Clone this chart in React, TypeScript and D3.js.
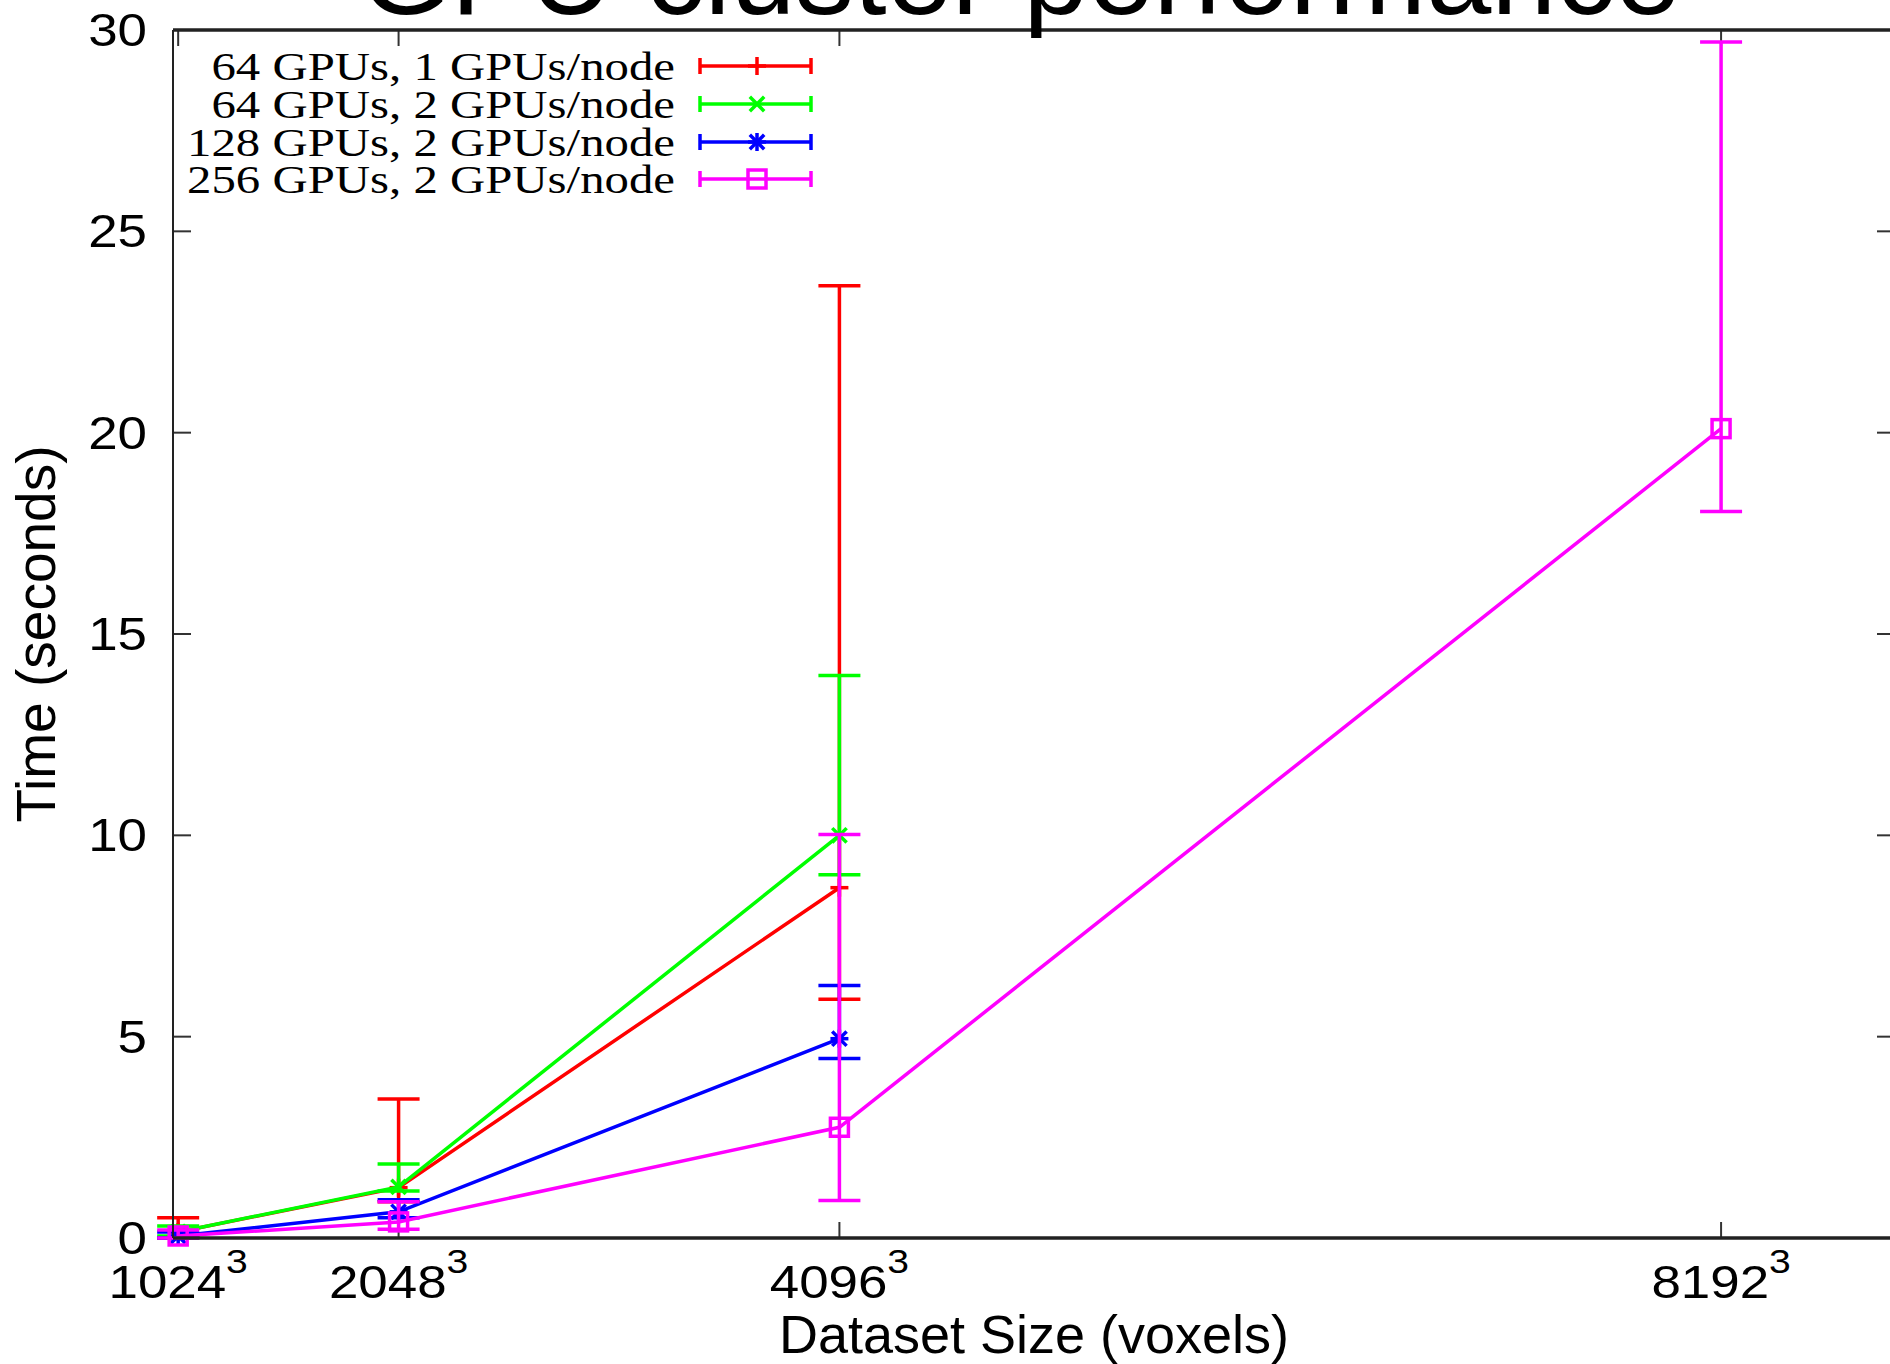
import * as d3 from "d3";
import React, { useEffect, useRef } from "react";

interface Point {
  size: number;
  value: number;
  low: number;
  high: number;
}

// dataset edge length (voxels per side)
const sizes = [1024, 2048, 4096, 8192];
const sizeLabels = ["1024", "2048", "4096", "8192"];
const yTicks = [0, 5, 10, 15, 20, 25, 30];

const gpu64n1: Point[] = [
  { size: 1024, value: 0.15, low: 0.0, high: 0.5 },
  { size: 2048, value: 1.25, low: 0.9, high: 3.45 },
  { size: 4096, value: 8.7, low: 5.93, high: 23.65 },
];
const gpu64n2: Point[] = [
  { size: 1024, value: 0.15, low: 0.05, high: 0.3 },
  { size: 2048, value: 1.27, low: 1.17, high: 1.84 },
  { size: 4096, value: 10.0, low: 9.02, high: 13.97 },
];
const gpu128n2: Point[] = [
  { size: 1024, value: 0.05, low: 0.0, high: 0.15 },
  { size: 2048, value: 0.65, low: 0.5, high: 0.95 },
  { size: 4096, value: 4.95, low: 4.46, high: 6.27 },
];
const gpu256n2: Point[] = [
  { size: 1024, value: 0.05, low: 0.0, high: 0.2 },
  { size: 2048, value: 0.4, low: 0.22, high: 0.9 },
  { size: 4096, value: 2.75, low: 0.93, high: 10.02 },
  { size: 8192, value: 20.1, low: 18.04, high: 29.7 },
];

const seriesNames = [
  "64 GPUs, 1 GPUs/node",
  "64 GPUs, 2 GPUs/node",
  "128 GPUs, 2 GPUs/node",
  "256 GPUs, 2 GPUs/node",
];
const seriesData = [gpu64n1, gpu64n2, gpu128n2, gpu256n2];
const seriesColors = ["#ff0000", "#00ff00", "#0000ff", "#ff00ff"];
const markerTypes = ["plus", "cross", "star", "square"];

const W = 1890;
const H = 1364;
const LW = 3.5;
const sans = "'Liberation Sans', Arial, Helvetica, sans-serif";
const serif = "'Liberation Serif', 'Times New Roman', serif";

function drawMarker(
  g: d3.Selection<SVGGElement, unknown, null, undefined>,
  type: string,
  cx: number,
  cy: number,
  color: string
) {
  const r = 9;
  const segs: [number, number, number, number][] = [];
  if (type === "plus" || type === "star") {
    segs.push([-r, 0, r, 0], [0, -r, 0, r]);
  }
  if (type === "cross" || type === "star") {
    segs.push([-r * 0.8, -r * 0.8, r * 0.8, r * 0.8], [-r * 0.8, r * 0.8, r * 0.8, -r * 0.8]);
  }
  segs.forEach(([x1, y1, x2, y2]) => {
    g.append("line")
      .attr("x1", cx + x1)
      .attr("y1", cy + y1)
      .attr("x2", cx + x2)
      .attr("y2", cy + y2)
      .attr("stroke", color)
      .attr("stroke-width", LW);
  });
  if (type === "square") {
    g.append("rect")
      .attr("x", cx - r)
      .attr("y", cy - r)
      .attr("width", 2 * r)
      .attr("height", 2 * r)
      .attr("fill", "none")
      .attr("stroke", color)
      .attr("stroke-width", LW);
  }
}

export default function App() {
  const svgRef = useRef<SVGSVGElement | null>(null);

  useEffect(() => {
    if (!svgRef.current) return;
    const svg = d3.select(svgRef.current);
    svg.selectAll("*").remove();

    const x = d3.scaleLinear().domain([1000, 9000]).range([173, 1895]);
    const y = d3.scaleLinear().domain([0, 30]).range([1238, 30]);
    const [x0, x1] = x.range();
    const [y0, y1] = y.range();

    svg.append("rect").attr("width", W).attr("height", H).attr("fill", "#fff");

    // ticks (inward, mirrored like gnuplot)
    const ticks = svg.append("g").attr("stroke", "#333").attr("stroke-width", 2);
    yTicks.forEach((t) => {
      ticks.append("line").attr("x1", x0).attr("x2", x0 + 18).attr("y1", y(t)).attr("y2", y(t));
      ticks.append("line").attr("x1", x1 - 18).attr("x2", x1).attr("y1", y(t)).attr("y2", y(t));
    });
    sizes.forEach((s) => {
      ticks.append("line").attr("x1", x(s)).attr("x2", x(s)).attr("y1", y0).attr("y2", y0 - 16);
      ticks.append("line").attr("x1", x(s)).attr("x2", x(s)).attr("y1", y1).attr("y2", y1 + 16);
    });

    // y tick labels
    yTicks.forEach((t) => {
      svg
        .append("text")
        .attr("transform", `translate(147,${y(t) + 16}) scale(1.15,1)`)
        .attr("text-anchor", "end")
        .style("font-family", sans)
        .style("font-size", "46px")
        .text(String(t));
    });

    // x tick labels with superscript 3
    sizes.forEach((s, i) => {
      const t = svg
        .append("text")
        .attr("transform", `translate(${x(s)},1298) scale(1.15,1)`)
        .attr("text-anchor", "middle")
        .style("font-family", sans)
        .style("font-size", "46px");
      t.append("tspan").text(sizeLabels[i]);
      t.append("tspan").attr("dy", -25).style("font-size", "34px").text("3");
    });

    // axis titles
    svg
      .append("text")
      .attr("x", (x0 + x1) / 2)
      .attr("y", 1353)
      .attr("text-anchor", "middle")
      .style("font-family", sans)
      .style("font-size", "54px")
      .text("Dataset Size (voxels)");
    svg
      .append("text")
      .attr("transform", `translate(55,${(y0 + y1) / 2}) rotate(-90)`)
      .attr("text-anchor", "middle")
      .style("font-family", sans)
      .style("font-size", "55px")
      .text("Time (seconds)");

    // series: error bars, lines, markers
    const line = d3
      .line<Point>()
      .x((d) => x(d.size))
      .y((d) => y(d.value));

    seriesData.forEach((data, si) => {
      const color = seriesColors[si];
      const g = svg.append("g");
      data.forEach((d) => {
        const cx = x(d.size);
        g.append("line")
          .attr("x1", cx).attr("x2", cx)
          .attr("y1", y(d.low)).attr("y2", y(d.high))
          .attr("stroke", color).attr("stroke-width", LW);
        [d.low, d.high].forEach((v) => {
          g.append("line")
            .attr("x1", cx - 21).attr("x2", cx + 21)
            .attr("y1", y(v)).attr("y2", y(v))
            .attr("stroke", color).attr("stroke-width", LW);
        });
      });
      g.append("path")
        .attr("d", line(data))
        .attr("fill", "none")
        .attr("stroke", color)
        .attr("stroke-width", LW);
      data.forEach((d) => drawMarker(g, markerTypes[si], x(d.size), y(d.value), color));
    });

    // legend
    const legendBase = [80, 118, 156, 193];
    seriesNames.forEach((name, i) => {
      const base = legendBase[i];
      const color = seriesColors[i];
      svg
        .append("text")
        .attr("transform", `translate(675,${base}) scale(1.22,1)`)
        .attr("text-anchor", "end")
        .style("font-family", serif)
        .style("font-size", "40px")
        .text(name);
      const ly = base - 14;
      const lg = svg.append("g");
      lg.append("line").attr("x1", 700).attr("x2", 811).attr("y1", ly).attr("y2", ly)
        .attr("stroke", color).attr("stroke-width", LW);
      [700, 811].forEach((lx) => {
        lg.append("line").attr("x1", lx).attr("x2", lx).attr("y1", ly - 8).attr("y2", ly + 8)
          .attr("stroke", color).attr("stroke-width", LW);
      });
      drawMarker(lg, markerTypes[i], 757, ly, color);
    });

    // plot border
    const border = svg.append("g").attr("stroke", "#222").attr("fill", "none");
    border.append("line").attr("x1", x0).attr("x2", x1).attr("y1", y1).attr("y2", y1).attr("stroke-width", 3.5);
    border.append("line").attr("x1", x0).attr("x2", x1).attr("y1", y0).attr("y2", y0).attr("stroke-width", 3.5);
    border.append("line").attr("x1", x0).attr("x2", x0).attr("y1", y1).attr("y2", y0).attr("stroke-width", 2);
    border.append("line").attr("x1", x1).attr("x2", x1).attr("y1", y1).attr("y2", y0).attr("stroke-width", 2);

    // title, cut off at the top edge as in the original
    svg
      .append("text")
      .attr("x", 1020)
      .attr("y", 14)
      .attr("text-anchor", "middle")
      .style("font-family", sans)
      .style("font-size", "117px")
      .text("GPU cluster performance");
  }, []);

  return (
    <svg
      ref={svgRef}
      width={W}
      height={H}
      style={{ position: "absolute", left: 0, top: 0, display: "block" }}
    />
  );
}
